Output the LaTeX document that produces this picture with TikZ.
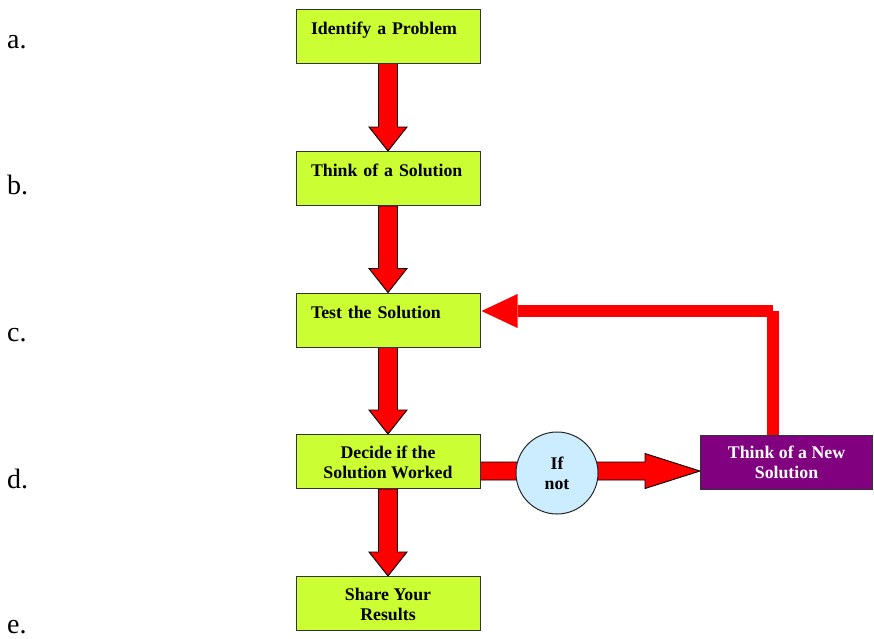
\documentclass[tikz,border=0pt]{standalone}
\usepackage{fontspec}
\setmainfont{Liberation Serif}
\usetikzlibrary{calc,backgrounds}

\definecolor{boxlime}{HTML}{CCFF33}
\definecolor{arrowred}{HTML}{FF0000}
\definecolor{newpurple}{HTML}{800080}
\definecolor{ifblue}{HTML}{CCECFF}

% thick outlined arrow pointing down from the bottom of #1 to the top of #2
\newcommand\fatdown[2]{%
  \draw[fatarrow] ($(#1.south)+(-9.5,0)$) -- ($(#2.north)+(-9.5,-24)$)
    -- ($(#2.north)+(-19,-24)$) -- (#2.north) -- ($(#2.north)+(19,-24)$)
    -- ($(#2.north)+(9.5,-24)$) -- ($(#1.south)+(9.5,0)$) -- cycle;}

\tikzset{
  boxfont/.style={font=\bfseries\fontsize{17.8}{20}\selectfont},
  topbox/.style={boxfont, draw=black!80, line width=1pt, fill=boxlime,
    inner xsep=15pt, inner ysep=0pt, text width=154pt, align=left,
    text height=25pt, text depth=29pt},
  midbox/.style={boxfont, draw=black!80, line width=1pt, fill=boxlime,
    inner sep=0pt, minimum width=184pt, minimum height=54pt, align=center},
  newbox/.style={boxfont, draw=black!80, line width=1pt, fill=newpurple,
    text=white, inner sep=0pt, minimum width=172pt, minimum height=54pt,
    align=center},
  ifcircle/.style={boxfont, circle, draw=black!85, line width=1pt,
    fill=ifblue, inner sep=0pt, minimum size=82pt, align=center},
  fatarrow/.style={fill=arrowred, draw=black, line width=0.9pt, line join=miter},
  loopline/.style={draw=arrowred, line width=12pt, line cap=butt},
  steplabel/.style={font=\fontsize{28}{30}\selectfont, anchor=base west,
    inner sep=0pt},
}

\begin{document}
\begin{tikzpicture}[x=1pt, y=-1pt]
\useasboundingbox (0,0) rectangle (874,638);
\clip (0,0) rectangle (874,638);

% step letters
\node[steplabel] (la) at (7,48) {a.};
\node[steplabel] (lb) at (7,194) {b.};
\node[steplabel] (lc) at (7,341) {c.};
\node[steplabel] (ld) at (7,488) {d.};
\node[steplabel] (le) at (7,633) {e.};

% process boxes
\node[topbox] (identify) at (388,36) {Identify a Problem};
\node[topbox] (think) at (388,178.5) {Think of a Solution};
\node[topbox] (test) at (388,320) {Test the Solution};
\node[midbox] (decide) at (388,461.5) {\strut Decide if the\\Solution Worked};
\node[midbox] (share) at (388,603.5) {\strut Share Your\\Results};
\node[ifcircle] (ifnot) at (557,473) {If\\not};
\node[newbox] (newsol) at (786.5,462) {\strut Think of a New\\Solution};

\begin{pgfonlayer}{background}
  % main flow
  \fatdown{identify}{think}
  \fatdown{think}{test}
  \fatdown{test}{decide}
  \fatdown{decide}{share}

  % branch to a new solution
  \coordinate (bstart) at ($(decide.east)+(0,9.5)$);
  \coordinate (btip) at ($(newsol.west)+(0,9)$);
  \draw[fatarrow] ($(bstart)+(0,-9)$) -- ($(btip)+(-55,-9)$)
    -- ($(btip)+(-55,-17.5)$) -- (btip) -- ($(btip)+(-55,17.5)$)
    -- ($(btip)+(-55,9)$) -- ($(bstart)+(0,9)$) -- cycle;

  % loop back to testing
  \coordinate (lbottom) at ($(newsol.north)+(-13.5,0)$);
  \coordinate (ltip) at ($(test.east)+(1,-9)$);
  \coordinate (lcorner) at (lbottom |- ltip);
  \draw[loopline] (lbottom) -- (lcorner);
  \draw[loopline] (lcorner) -- ($(ltip)+(36,0)$);
  \fill[arrowred] (ltip) -- ($(ltip)+(36,-17)$) -- ($(ltip)+(36,17)$) -- cycle;
\end{pgfonlayer}
\end{tikzpicture}
\end{document}
